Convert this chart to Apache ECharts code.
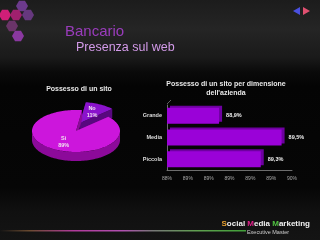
<!DOCTYPE html>
<html><head><meta charset="utf-8">
<script src="https://cdn.jsdelivr.net/npm/echarts@6/dist/echarts.min.js"></script>
<style>html,body{margin:0;padding:0;background:#000}#c{width:320px;height:240px}</style>
</head><body><div id="c"></div>
<script>
const pieCats = ['No', 'Si'];
const pieVals = [11, 89];
const barCats = ['Grande', 'Media', 'Piccola'];
const barVals = [88.9, 89.5, 89.3];
const barLabels = ['88,9%', '89,5%', '89,3%'];
const tickLabels = ['88%', '89%', '89%', '89%', '89%', '89%', '90%'];

const chart = echarts.init(document.getElementById('c'), null, {renderer: 'canvas'});
const rad = d => d * Math.PI / 180;
const PIE = {cx: 76, cy: 131, rx: 44, ry: 21, depth: 9, start: 8, ex: 8, ey: 9};
const topColors = ['#8a12cc', '#cc16dc'];
const sideColors = ['#58087f', '#8c0a9a'];

function renderPie(params, api) {
  const i = params.dataIndex;
  const total = pieVals.reduce((a, b) => a + b, 0);
  let before = 0;
  for (let k = 0; k < i; k++) before += pieVals[k];
  const v = api.value(0);
  const a0 = PIE.start + 360 * before / total;
  const a1 = a0 + 360 * v / total;
  const mid = (a0 + a1) / 2;
  const explode = (pieCats[i] === 'No') ? 1 : 0;
  const cx = PIE.cx + Math.sin(rad(mid)) * PIE.ex * explode;
  const cy = PIE.cy - Math.cos(rad(mid)) * PIE.ey * explode;
  const D = PIE.depth;
  const P = (t, f, dy) => [cx + PIE.rx * f * Math.sin(rad(t)), cy - PIE.ry * f * Math.cos(rad(t)) + (dy || 0)];
  const arc = (t0, t1, dy) => {
    const pts = [];
    const n = Math.max(2, Math.ceil(Math.abs(t1 - t0) / 2));
    for (let s = 0; s <= n; s++) pts.push(P(t0 + (t1 - t0) * s / n, 1, dy));
    return pts;
  };
  const children = [];
  // radial faces
  [a0, a1].forEach(t => {
    const p = P(t, 1, 0);
    children.push({type: 'polygon', shape: {points: [[cx, cy], p, [p[0], p[1] + D], [cx, cy + D]]},
      style: {fill: sideColors[i]}});
  });
  // front wall
  [0, 360].forEach(k => {
    const lo = Math.max(a0, 90 + k), hi = Math.min(a1, 270 + k);
    if (hi > lo) {
      const pts = arc(lo, hi, 0).concat(arc(hi, lo, D));
      children.push({type: 'polygon', shape: {points: pts}, style: {fill: sideColors[i]}});
    }
  });
  // top
  children.push({type: 'polygon', shape: {points: [[cx, cy]].concat(arc(a0, a1, 0))},
    style: {fill: topColors[i]}});
  const lp = P(mid, 0.6, 0);
  children.push({type: 'text', x: lp[0], y: lp[1],
    style: {text: pieCats[i] + '\n' + v + '%', fill: '#f0e0f0', font: 'bold 5.5px "Liberation Sans", Arial, sans-serif',
      align: 'center', verticalAlign: 'middle', lineHeight: 7}});
  return {type: 'group', children: children};
}

const option = {
  animation: false,
  backgroundColor: {type: 'linear', x: 0, y: 0, x2: 0, y2: 1, colorStops: [
    {offset: 0, color: '#1c1c1c'}, {offset: 0.12, color: '#252525'}, {offset: 0.24, color: '#1a1a1a'},
    {offset: 0.3, color: '#0a0a0a'}, {offset: 0.36, color: '#040404'}, {offset: 0.78, color: '#060606'},
    {offset: 0.88, color: '#101010'}, {offset: 1, color: '#141414'}]},
  graphic: [
    // hex logo
    ...[[22, 6, '#6c3a8c'], [5, 15, '#d01e78'], [16, 15, '#a0206e'], [28, 15, '#66387e'], [12, 26, '#6a3468'], [18, 36, '#8a38a0']].map(h => ({
      type: 'polygon', shape: {points: [0, 60, 120, 180, 240, 300].map(a => [h[0] + 6 * Math.cos(rad(a)), h[1] + 6 * Math.sin(rad(a))])},
      style: {fill: h[2]}})),
    {type: 'polygon', shape: {points: [[293, 11], [300, 7], [300, 15]]}, style: {fill: '#4a50e0'}},
    {type: 'polygon', shape: {points: [[310, 11], [303, 7], [303, 15]]}, style: {fill: '#e05070'}},
    {type: 'text', x: 65, y: 32, style: {text: 'Bancario', fill: '#9a3cbc', font: '15px "Liberation Sans", Arial, sans-serif', verticalAlign: 'middle'}},
    {type: 'text', x: 76, y: 48, style: {text: 'Presenza sul web', fill: '#d29ae8', font: '12.5px "Liberation Sans", Arial, sans-serif', verticalAlign: 'middle'}},
    {type: 'text', x: 79, y: 89, style: {text: 'Possesso di un sito', fill: '#e8e8e8', font: 'bold 7px "Liberation Sans", Arial, sans-serif', align: 'center', verticalAlign: 'middle'}},
    {type: 'text', x: 226, y: 89, style: {text: 'Possesso di un sito per dimensione\ndell\'azienda', fill: '#e8e8e8', font: 'bold 7px "Liberation Sans", Arial, sans-serif', align: 'center', verticalAlign: 'middle', lineHeight: 9}},
    {type: 'line', shape: {x1: 167, y1: 104, x2: 171, y2: 100}, style: {stroke: '#888', lineWidth: 0.7}},
    {type: 'rect', shape: {x: 0, y: 230, width: 246, height: 1.5}, style: {fill: {type: 'linear', x: 0, y: 0, x2: 1, y2: 0, colorStops: [
      {offset: 0, color: '#141414'}, {offset: 0.12, color: '#6a4a30'}, {offset: 0.3, color: '#b03a9a'}, {offset: 0.5, color: '#b050b0'},
      {offset: 0.62, color: '#777'}, {offset: 0.8, color: '#60a050'}, {offset: 1, color: '#40a038'}]}}},
    {type: 'text', x: 310, y: 224, style: {text: '{o|S}ocial {m|M}edia {g|M}arketing', fill: '#f2f2f2', font: 'bold 8px "Liberation Sans", Arial, sans-serif', align: 'right', verticalAlign: 'middle',
      rich: {o: {fill: '#e8a030', font: 'bold 8px "Liberation Sans", Arial, sans-serif'}, m: {fill: '#e0208a', font: 'bold 8px "Liberation Sans", Arial, sans-serif'}, g: {fill: '#50c040', font: 'bold 8px "Liberation Sans", Arial, sans-serif'}}}},
    {type: 'text', x: 268, y: 232, style: {text: 'Executive Master', fill: '#cfcfcf', font: '5.5px "Liberation Sans", Arial, sans-serif', align: 'center', verticalAlign: 'middle'}}
  ],
  grid: {left: 167, right: 28, top: 105, bottom: 70, containLabel: false},
  xAxis: {type: 'value', min: 88.4, max: 89.6, interval: 0.2,
    axisLine: {show: true, lineStyle: {color: '#888', width: 0.8}}, axisTick: {show: false}, splitLine: {show: false},
    axisLabel: {color: '#aaa', fontSize: 5, margin: 6, formatter: (val, idx) => tickLabels[idx]}},
  yAxis: {type: 'category', data: barCats, inverse: true,
    axisLine: {show: true, lineStyle: {color: '#888', width: 0.8}}, axisTick: {show: false},
    axisLabel: {color: '#ddd', fontSize: 5.5, fontWeight: 'bold', margin: 5}},
  series: [
    {type: 'bar', data: barVals, barWidth: 16,
      itemStyle: {color: '#9a02d8', shadowColor: '#6e00a0', shadowOffsetX: 3, shadowOffsetY: -2, shadowBlur: 0},
      label: {show: true, position: 'right', distance: 7, color: '#f0f0f0', fontSize: 5.5, fontWeight: 'bold',
        formatter: p => barLabels[p.dataIndex]}},
    {type: 'custom', coordinateSystem: 'none', silent: true,
      data: pieVals.map((v, i) => ({value: v, name: pieCats[i]})), renderItem: renderPie}
  ]
};
chart.setOption(option);
</script></body></html>
